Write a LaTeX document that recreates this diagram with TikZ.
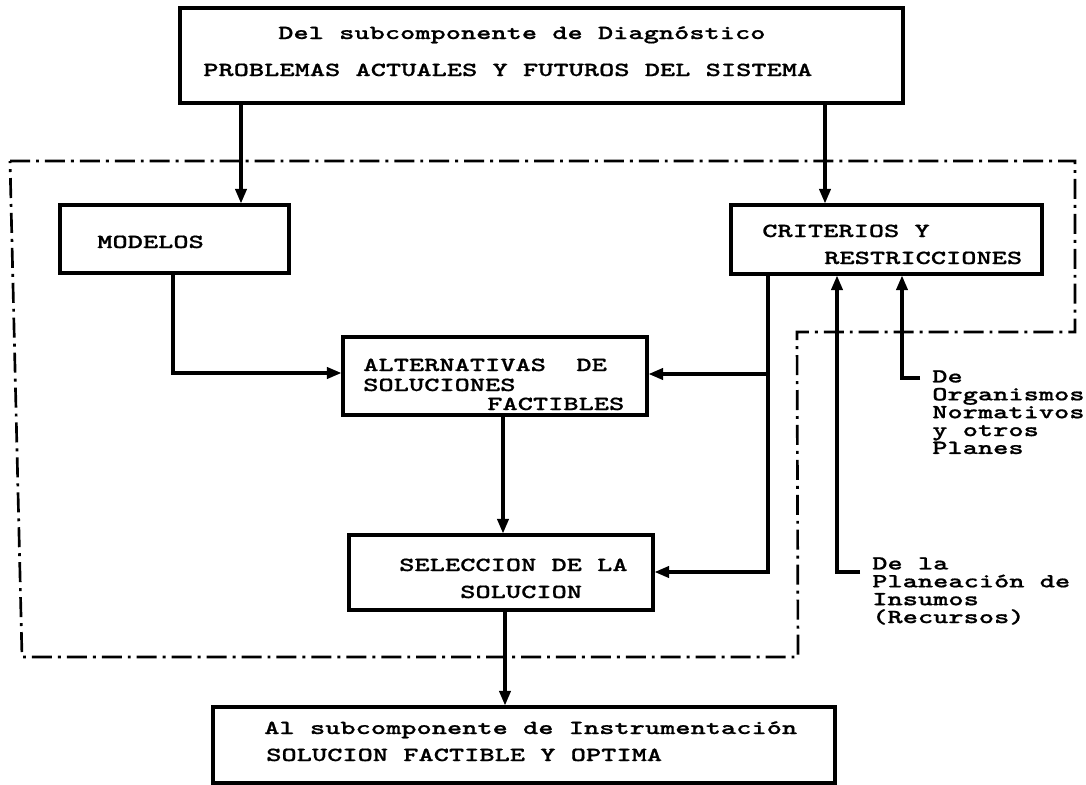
\documentclass[tikz,border=0pt]{standalone}
\usepackage{fontspec}
\usetikzlibrary{arrows.meta}
% wide typewriter face
\newfontfamily\tw[FakeStretch=1.45,FakeBold=0.7]{lmmonolt10-bold.otf}

\tikzset{
  box/.style={draw, line width=2.3pt, rectangle, inner sep=0pt},
  txt/.style={inner sep=0pt, anchor=base west, font=\tw\fontsize{15pt}{18pt}\selectfont},
  note/.style={inner sep=0pt, anchor=north west, align=left, font=\tw\fontsize{15pt}{13.4pt}\selectfont},
  link/.style={line width=2.4pt},
  arr/.style={link, -{Triangle[length=11pt,width=8.5pt]}},
  frame/.style={line width=2pt, dash pattern=on 15pt off 4.5pt on 2.2pt off 4.5pt},
}

% box from (x1,y1) to (x2,y2), in pixel units
\newcommand\mkbox[5]{%
  \node[box, minimum width={(#4-#2)*0.75pt}, minimum height={(#5-#3)*0.75pt}]
    (#1) at ({(#2+#4)/2},{(#3+#5)/2}) {};}

\begin{document}
\begin{tikzpicture}[x=0.75pt,y=-0.75pt]
\useasboundingbox (0,0) rectangle (1086,785);

% boundary of the subcomponent
\draw[frame] (10,161) -- (1075,161) -- (1075,332) -- (797,332) -- (798,657) -- (22,657) -- cycle;

% boxes
\mkbox{T}{180}{8}{903}{103}
\mkbox{M}{60}{205}{289}{273}
\mkbox{C}{731}{205}{1042}{274}
\mkbox{A}{343}{337}{647}{415}
\mkbox{S}{349}{535}{653}{610}
\mkbox{B}{213}{707}{835}{783}

% box texts
\node[txt] (t1) at (278,39) {Del subcomponente de Diagnóstico};
\node[txt] (t2) at (203,76) {PROBLEMAS ACTUALES Y FUTUROS DEL SISTEMA};
\node[txt] (m1) at (97,248) {MODELOS};
\node[txt] (c1) at (762,237) {CRITERIOS Y};
\node[txt] (c2) at (824,264) {RESTRICCIONES};
\node[txt] (a1) at (363,371) {ALTERNATIVAS\ \ DE};
\node[txt] (a2) at (363,391) {SOLUCIONES};
\node[txt] (a3) at (487,410) {FACTIBLES};
\node[txt] (s1) at (399,571) {SELECCION DE LA};
\node[txt] (s2) at (460,598) {SOLUCION};
\node[txt] (b1) at (264,734) {Al subcomponente de Instrumentación};
\node[txt] (b2) at (266,761) {SOLUCION FACTIBLE Y OPTIMA};

% external inputs
\node[note] (org) at (932,370) {De\\Organismos\\Normativos\\y otros\\Planes};
\node[note] (pla) at (872,557) {De la\\Planeación de\\Insumos\\(Recursos)};

% connector positions
\coordinate (xTM) at (241,0);
\coordinate (xTC) at (825,0);
\coordinate (xMA) at (173,0);
\coordinate (xCS) at (768,0);
\coordinate (xAS) at (503,0);
\coordinate (xSB) at (505,0);
\coordinate (xPl) at (837,0);
\coordinate (xOr) at (902,0);
\coordinate (yMA) at (0,373);
\coordinate (yCA) at (0,374);
\coordinate (yCS) at (0,572);
\coordinate (inOr) at (920,378);
\coordinate (inPl) at (860,572);

% connectors
\draw[arr] (T.south -| xTM) -- (M.north -| xTM);
\draw[arr] (T.south -| xTC) -- (C.north -| xTC);
\draw[arr] (M.south -| xMA) |- (A.west |- yMA);
\draw[arr] (C.south -| xCS) |- (S.east |- yCS);
\draw[arr] (xCS |- yCA) -- (A.east |- yCA);
\draw[arr] (A.south -| xAS) -- (S.north -| xAS);
\draw[arr] (S.south -| xSB) -- (B.north -| xSB);
\draw[arr] (inOr) -| (C.south -| xOr);
\draw[arr] (inPl) -| (C.south -| xPl);
\end{tikzpicture}
\end{document}
